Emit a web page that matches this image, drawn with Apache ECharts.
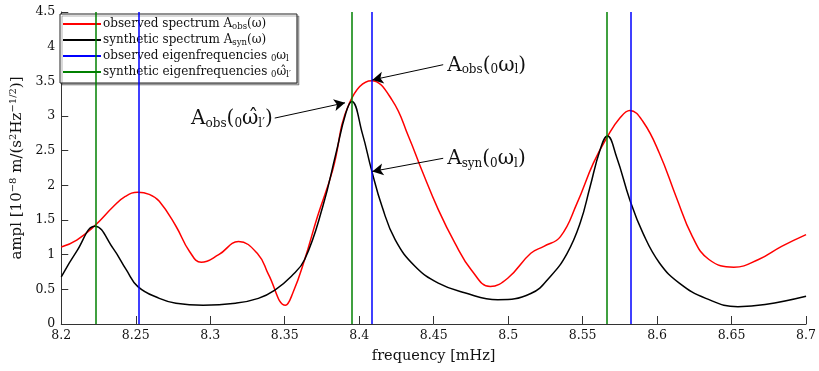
<!DOCTYPE html>
<html>
<head>
<meta charset="utf-8">
<script src="https://cdn.jsdelivr.net/npm/echarts@6/dist/echarts.min.js"></script>
<style>
  html, body { margin: 0; padding: 0; background: #fff; }
  #chart { width: 819px; height: 371px; }
</style>
</head>
<body>
<div id="chart"></div>
<script>
// observed spectrum [frequency mHz, amplitude]
const obsSpectrum = [
  [8.200, 1.11], [8.2104, 1.21], [8.2226, 1.42], [8.2348, 1.69], [8.243, 1.84],
  [8.2514, 1.90], [8.259, 1.87], [8.2658, 1.77], [8.277, 1.41], [8.286, 1.05],
  [8.294, 0.89], [8.3057, 1.00], [8.319, 1.19], [8.3323, 1.00], [8.339, 0.72],
  [8.3505, 0.27], [8.3555, 0.45], [8.3634, 0.93], [8.372, 1.55], [8.3822, 2.22],
  [8.3933, 3.18], [8.4083, 3.51], [8.4221, 3.23], [8.4332, 2.70], [8.442, 2.22],
  [8.4531, 1.65], [8.4642, 1.17], [8.4753, 0.78], [8.488, 0.54], [8.4997, 0.66],
  [8.5152, 1.02], [8.524, 1.12], [8.5351, 1.26], [8.5462, 1.74], [8.5572, 2.32],
  [8.5666, 2.70], [8.575, 2.97], [8.5817, 3.08], [8.5905, 2.92], [8.6016, 2.46],
  [8.6127, 1.84], [8.6237, 1.26], [8.6348, 0.93], [8.6515, 0.82], [8.6681, 0.93],
  [8.6836, 1.12], [8.700, 1.29]
];
// synthetic spectrum
const synSpectrum = [
  [8.200, 0.68], [8.2104, 1.05], [8.2226, 1.41], [8.2348, 1.09], [8.2437, 0.78],
  [8.2514, 0.54], [8.2658, 0.37], [8.277, 0.30], [8.2952, 0.27], [8.317, 0.30],
  [8.3323, 0.37], [8.3434, 0.49], [8.3545, 0.69], [8.3634, 0.93], [8.3755, 1.69],
  [8.3844, 2.46], [8.391, 3.04], [8.395, 3.21], [8.4021, 2.75], [8.4083, 2.22],
  [8.4154, 1.69], [8.4243, 1.21], [8.4376, 0.83], [8.4531, 0.59], [8.4708, 0.45],
  [8.493, 0.35], [8.5152, 0.44], [8.5285, 0.69], [8.5396, 1.02], [8.5484, 1.46],
  [8.555, 1.98], [8.5617, 2.51], [8.5666, 2.71], [8.5728, 2.41], [8.5817, 1.79],
  [8.5905, 1.31], [8.6016, 0.88], [8.6149, 0.59], [8.6327, 0.37], [8.6543, 0.25],
  [8.6725, 0.28], [8.700, 0.40]
];
const obsEigen = [8.2518, 8.4085, 8.5825];
const synEigen = [8.2232, 8.3948, 8.5665];

// annotations: arrow start (text end), arrow tip
const annotations = [
  { text: 'A{sub|obs}({sub|0}ω{sub|l})', from: [8.4564, 3.74], to: [8.4088, 3.52], side: 'right' },
  { text: 'A{sub|obs}({sub|0}ω̂{sub|l′})', from: [8.3433, 2.97], to: [8.3905, 3.19], side: 'left' },
  { text: 'A{sub|syn}({sub|0}ω{sub|l})', from: [8.4564, 2.39], to: [8.4088, 2.20], side: 'right' }
];

const names = {
  obs: 'observed spectrum',
  syn: 'synthetic spectrum',
  obsE: 'observed eigenfrequencies',
  synE: 'synthetic eigenfrequencies'
};
const legendText = {
  [names.obs]: 'observed spectrum A{s|obs}(ω)',
  [names.syn]: 'synthetic spectrum A{s|syn}(ω)',
  [names.obsE]: 'observed eigenfrequencies {s|0}ω{s|l}',
  [names.synE]: 'synthetic eigenfrequencies {s|0}ω̂{s|l′}'
};

const FONT = '"DejaVu Serif", "Liberation Serif", serif';
const chart = echarts.init(document.getElementById('chart'));

// full-height vertical segments at the given frequencies
function vlines(xs) {
  return xs.map(x => [{ coord: [x, 0] }, { coord: [x, 4.5] }]);
}

const option = {
  animation: false,
  textStyle: { fontFamily: FONT },
  grid: { left: 56, right: 11, top: 12, bottom: 47 },
  legend: {
    orient: 'vertical',
    left: 60, top: 14,
    padding: [4, 6, 4, 3],
    itemGap: 3,
    itemWidth: 38, itemHeight: 2,
    icon: 'rect',
    backgroundColor: '#fff',
    borderColor: '#222', borderWidth: 1,
    shadowColor: 'rgba(0,0,0,0.3)', shadowOffsetX: 2, shadowOffsetY: 2, shadowBlur: 0,
    data: [names.obs, names.syn, names.obsE, names.synE],
    formatter: n => legendText[n],
    textStyle: {
      fontFamily: FONT, fontSize: 12, color: '#111', padding: [0, 0, 0, -3],
      rich: { s: { fontFamily: FONT, fontSize: 8.5, padding: [5, 0, 0, 0], color: '#111' } }
    }
  },
  xAxis: {
    type: 'value', min: 8.2, max: 8.7, interval: 0.05,
    name: 'frequency [mHz]', nameLocation: 'middle', nameGap: 25,
    nameTextStyle: { fontFamily: FONT, fontSize: 14.5, color: '#111' },
    axisLine: { lineStyle: { color: '#333', width: 1 } },
    axisTick: { inside: true, length: 8, lineStyle: { color: '#333' } },
    axisLabel: { fontFamily: FONT, fontSize: 12.5, color: '#111', margin: 5, formatter: v => String(+v.toFixed(2)) },
    splitLine: { show: false }
  },
  yAxis: {
    type: 'value', min: 0, max: 4.5, interval: 0.5,
    name: 'ampl [10{sp|−8} m/(s{sp|2}Hz{sp|−1/2})]', nameLocation: 'middle', nameGap: 32, nameRotate: 90,
    nameTextStyle: {
      fontFamily: FONT, fontSize: 15, color: '#111',
      rich: { sp: { fontFamily: FONT, fontSize: 10, padding: [0, 0, 8, 0], color: '#111' } }
    },
    axisLine: { show: true, lineStyle: { color: '#333', width: 1 } },
    axisTick: { show: true, inside: true, length: 7, lineStyle: { color: '#333' } },
    axisLabel: { fontFamily: FONT, fontSize: 12.5, color: '#111', margin: 6 },
    splitLine: { show: false }
  },
  series: [
    {
      name: names.obs, type: 'line', data: obsSpectrum, smooth: 0.45, symbol: 'none',
      lineStyle: { color: '#ff0000', width: 1.5 }, itemStyle: { color: '#ff0000' }, z: 3
    },
    {
      name: names.syn, type: 'line', data: synSpectrum, smooth: 0.45, symbol: 'none',
      lineStyle: { color: '#000', width: 1.5 }, itemStyle: { color: '#000' }, z: 4
    },
    {
      name: names.obsE, type: 'line', data: [], symbol: 'none',
      lineStyle: { color: '#0000ff', width: 1.5 }, itemStyle: { color: '#0000ff' },
      markLine: {
        silent: true, symbol: 'none', label: { show: false },
        lineStyle: { color: '#0000ff', width: 1.5, type: 'solid' },
        data: vlines(obsEigen)
      }
    },
    {
      name: names.synE, type: 'line', data: [], symbol: 'none',
      lineStyle: { color: '#008000', width: 1.5 }, itemStyle: { color: '#008000' },
      markLine: {
        silent: true, symbol: 'none', label: { show: false },
        lineStyle: { color: '#008000', width: 1.5, type: 'solid' },
        data: vlines(synEigen)
      }
    },
    {
      name: 'arrows', type: 'line', data: [], symbol: 'none',
      markLine: {
        silent: true, symbol: ['none', 'arrow'], symbolSize: [9, 11],
        label: { show: false },
        lineStyle: { color: '#000', width: 1, type: 'solid' },
        data: annotations.map(a => [{ coord: a.from }, { coord: a.to }])
      },
      z: 6
    }
  ]
};
chart.setOption(option);

// annotation texts placed next to the arrow tails
const graphics = annotations.map(a => {
  const p = chart.convertToPixel({ gridIndex: 0 }, a.from);
  return {
    type: 'text',
    x: a.side === 'right' ? p[0] + 4 : p[0] - 2,
    y: p[1] + 1,
    z: 10,
    style: {
      text: a.text,
      fontFamily: FONT, fontSize: 20, fill: '#111',
      align: a.side === 'right' ? 'left' : 'right',
      verticalAlign: 'middle',
      rich: { sub: { fontFamily: FONT, fontSize: 12, padding: [9, 0, 0, 0], fill: '#111' } }
    }
  };
});
chart.setOption({ graphic: graphics });
</script>
</body>
</html>
